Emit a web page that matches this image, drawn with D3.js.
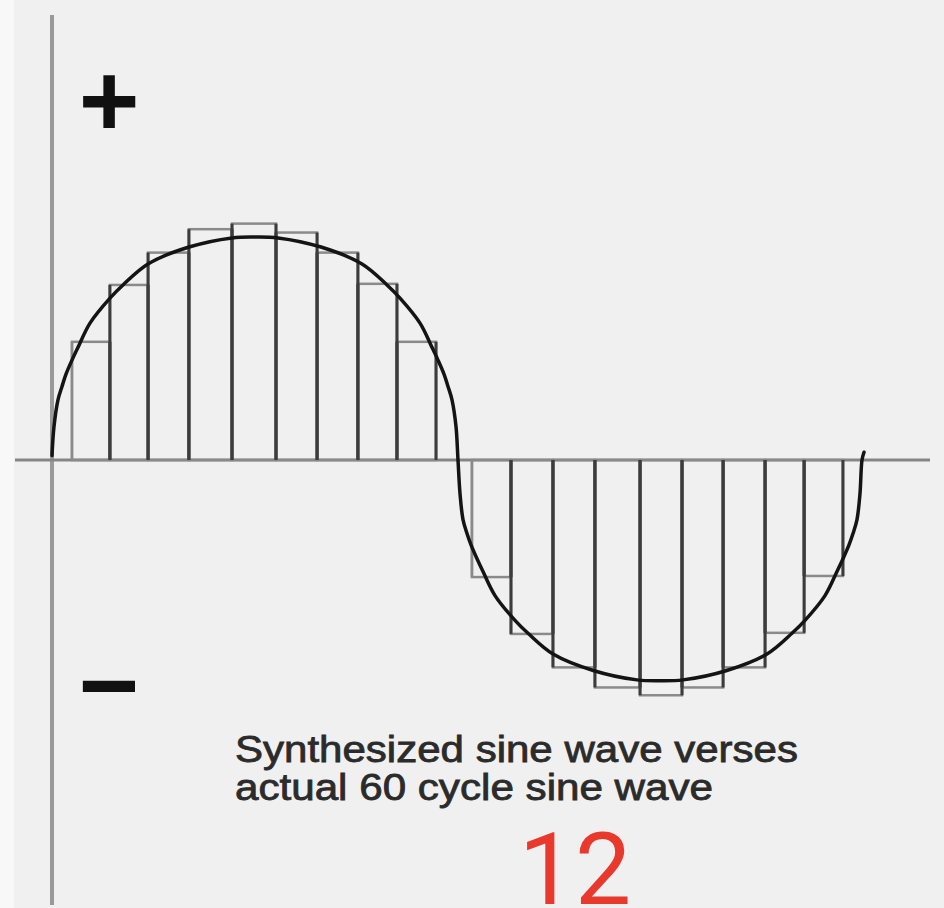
<!DOCTYPE html>
<html>
<head>
<meta charset="utf-8">
<script src="https://cdn.jsdelivr.net/npm/d3@7"></script>
<style>
  html, body { margin: 0; padding: 0; background: #f0f0f0; }
  svg { display: block; }
</style>
</head>
<body>
<script>
// ---- data (phase in degrees, amplitude in units of peak) ----
const barStarts = [8.9, 25.8, 42.8, 61.0, 80.2, 99.8, 118.1, 136.3, 153.7,
                   187.1, 204.5, 223.2, 241.9, 262.0, 280.7, 299.0, 317.7, 335.1];
const barEnds   = [25.8, 42.8, 61.0, 80.2, 99.8, 118.1, 136.3, 153.7, 171.1,
                   204.5, 223.2, 241.9, 262.0, 280.7, 299.0, 317.7, 335.1, 352.4];
const barValues = [0.53, 0.785, 0.93, 1.035, 1.06, 1.02, 0.93, 0.79, 0.53,
                   -0.525, -0.78, -0.93, -1.02, -1.055, -1.02, -0.93, -0.775, -0.52];
// points read along the drawn "actual" wave
const curvePhases = [0.0, 0.89, 2.67, 4.46, 6.24, 8.91, 11.58, 16.93, 25.84, 31.63, 42.77, 61.04, 80.20, 90.45,
                     100.69, 119.85, 138.12, 149.26, 155.05, 163.96, 169.31, 171.98, 174.65, 176.44, 178.22, 180.0, 180.89,
                     181.78, 183.12, 184.90, 186.69, 189.36, 192.03, 197.38, 206.29, 212.08, 223.22, 241.49, 260.64, 270.89,
                     281.14, 300.30, 318.57, 329.70, 335.50, 344.41, 349.75, 352.43, 355.10, 356.88, 358.66, 360.0, 360.89, 361.78];
const curveValues = [0.02, 0.15, 0.27, 0.33, 0.385, 0.448, 0.505, 0.614, 0.726, 0.785, 0.879, 0.955, 0.996, 1.0,
                     0.996, 0.955, 0.879, 0.785, 0.726, 0.614, 0.505, 0.448, 0.385, 0.33, 0.27, 0.15, 0.0,
                     -0.15, -0.267, -0.33, -0.381, -0.443, -0.5, -0.608, -0.719, -0.777, -0.870, -0.945, -0.986, -0.99,
                     -0.986, -0.945, -0.870, -0.777, -0.719, -0.608, -0.5, -0.443, -0.381, -0.33, -0.267, -0.15, 0.0, 0.035];
const plusLabel = "+";
const minusLabel = "\u2212";
const captionLines = ["Synthesized sine wave verses", "actual 60 cycle sine wave"];
const pageNumber = "12";

// ---- layout ----
const W = 944, H = 908;
const svg = d3.select("body").append("svg").attr("width", W).attr("height", H);

svg.append("rect").attr("x", 0).attr("y", 0).attr("width", W).attr("height", H).attr("fill", "#f0f0f0");
svg.append("rect").attr("x", 0).attr("y", 0).attr("width", 14).attr("height", H).attr("fill", "#f8f8f8");

const x = d3.scaleLinear().domain([0, 360]).range([52, 860]);
const y = d3.scaleLinear().domain([-1, 1]).range([683, 237]);

// axes
svg.append("line").attr("x1", 52).attr("x2", 52).attr("y1", 15).attr("y2", 905)
  .attr("stroke", "#9a9a9a").attr("stroke-width", 4);
svg.append("line").attr("x1", 15).attr("x2", 930).attr("y1", y(0)).attr("y2", y(0))
  .attr("stroke", "#858585").attr("stroke-width", 3);

// bars (synthesized stepped wave)
const bars = barValues.map((v, i) => ({ x0: barStarts[i], x1: barEnds[i], v }));
const g = svg.append("g");
g.selectAll("rect.bar").data(bars).join("rect").attr("class", "bar")
  .attr("x", d => x(d.x0))
  .attr("width", d => x(d.x1) - x(d.x0))
  .attr("y", d => Math.min(y(d.v), y(0)))
  .attr("height", d => Math.abs(y(d.v) - y(0)))
  .attr("fill", "none")
  .attr("stroke", "#8a8a8a")
  .attr("stroke-width", 2.5);

// darker vertical edges of the steps
const edges = [];
bars.forEach((d, i) => {
  edges.push({ xv: d.x0, v: d.v, outer: i === 0 || i === 9 });
  edges.push({ xv: d.x1, v: d.v, outer: false });
});
g.selectAll("line.edge").data(edges).join("line").attr("class", "edge")
  .attr("x1", d => x(d.xv)).attr("x2", d => x(d.xv))
  .attr("y1", y(0)).attr("y2", d => y(d.v))
  .attr("stroke", d => d.outer ? "#8a8a8a" : "#3c3c3c")
  .attr("stroke-width", d => d.outer ? 2.5 : 3);

// actual sine wave
const line = d3.line().x(d => x(d[0])).y(d => y(d[1])).curve(d3.curveCatmullRom.alpha(0.5));
svg.append("path")
  .datum(curvePhases.map((p, i) => [p, curveValues[i]]))
  .attr("d", line)
  .attr("fill", "none")
  .attr("stroke", "#141414")
  .attr("stroke-width", 3.5)
  .attr("stroke-linecap", "round");

// + and − labels
svg.append("text").attr("x", 109).attr("y", 136)
  .attr("text-anchor", "middle")
  .attr("font-family", "'Liberation Sans', Arial, sans-serif")
  .attr("font-weight", "bold").attr("font-size", 104)
  .attr("fill", "#111").text(plusLabel);
svg.append("text").attr("x", 109).attr("y", 721)
  .attr("text-anchor", "middle")
  .attr("font-family", "'Liberation Sans', Arial, sans-serif")
  .attr("font-weight", "bold").attr("font-size", 104)
  .attr("fill", "#111").text(minusLabel);

// caption
const capLens = [563, 478];
captionLines.forEach((t, i) => {
  svg.append("text")
    .attr("x", 235).attr("y", 762 + i * 38)
    .attr("font-family", "'Liberation Sans', Arial, sans-serif")
    .attr("font-size", 36)
    .attr("fill", "#2b2b2b")
    .attr("stroke", "#2b2b2b").attr("stroke-width", 0.8)
    .attr("textLength", capLens[i])
    .attr("lengthAdjust", "spacingAndGlyphs")
    .text(t);
});

// red page number
svg.append("text").attr("x", 575).attr("y", 904)
  .attr("text-anchor", "middle")
  .attr("font-family", "Roboto, 'Noto Sans', sans-serif")
  .attr("font-size", 100)
  .attr("fill", "#e8392c")
  .text(pageNumber);
</script>
</body>
</html>
